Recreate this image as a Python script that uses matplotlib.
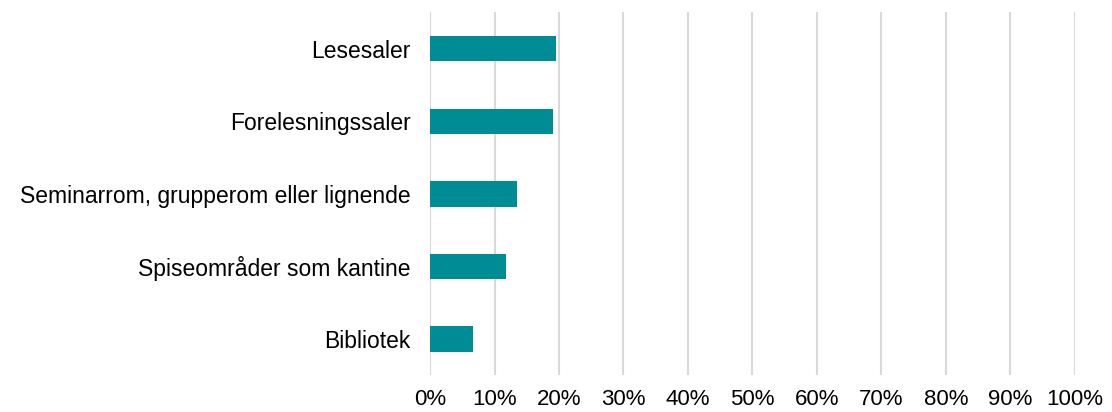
import numpy as np
import matplotlib.pyplot as plt
from matplotlib.ticker import PercentFormatter

plt.rcParams['font.family'] = ['Liberation Sans', 'DejaVu Sans']

categories = ['Lesesaler', 'Forelesningssaler', 'Seminarrom, grupperom eller lignende',
              'Spiseområder som kantine', 'Bibliotek']
values = [19.5, 19.0, 13.5, 11.8, 6.7]
ticks = np.arange(0, 101, 10)

fig = plt.figure(figsize=(11.12, 4.12), dpi=100)
ax = fig.add_axes([0.3867, 0.089, 0.58, 0.881])

y = np.arange(len(categories))
ax.barh(y, values, height=0.35, color='#008C95', zorder=3)
ax.set_yticks(y)
ax.set_yticklabels(categories)
ax.set_ylim(len(categories) - 0.5, -0.5)
ax.set_xlim(0, 100)
ax.set_xticks(ticks)
ax.xaxis.set_major_formatter(PercentFormatter(decimals=0))
ax.grid(axis='x', color='#D9D9D9', linewidth=1.5, zorder=0)
for s in ax.spines.values():
    s.set_visible(False)
ax.tick_params(axis='y', length=0, pad=14, labelsize=16.5)
ax.tick_params(axis='x', length=0, pad=10, labelsize=16)

fig.savefig('out.png', dpi=100)
